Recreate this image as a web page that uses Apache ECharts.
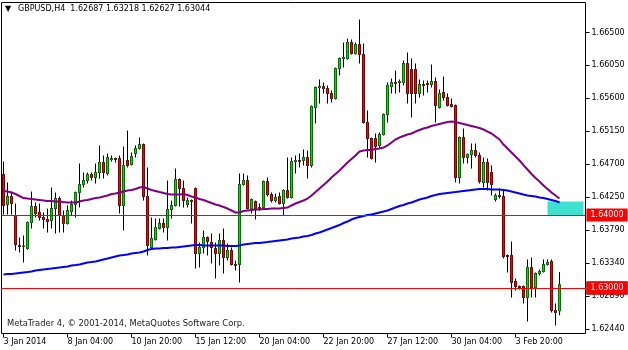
<!DOCTYPE html>
<html><head><meta charset="utf-8">
<script src="https://cdn.jsdelivr.net/npm/echarts@6.0.0/dist/echarts.min.js"></script>
<style>html,body{margin:0;padding:0;background:#fff}#c{width:628px;height:350px}</style>
</head><body><div id="c"></div>
<script>
const symbolName = 'GBPUSD,H4';
const copyrightText = 'MetaTrader 4, \u00a9 2001-2014, MetaQuotes Software Corp.';
const timeLabels = ['3 Jan 2014','8 Jan 04:00','10 Jan 20:00','15 Jan 12:00','20 Jan 04:00','22 Jan 20:00','27 Jan 12:00','30 Jan 04:00','3 Feb 20:00'];
const barsPerLabel = 16;
const emptyBarsRight = 6;

const barOpen = [1.64555,1.64144,1.64254,1.63994,1.63583,1.63569,1.63541,1.63898,1.64117,1.64035,
1.63966,1.63939,1.63925,1.64089,1.64226,1.63994,1.63884,1.64048,1.64144,1.64309,
1.64418,1.64473,1.64555,1.64514,1.64583,1.64720,1.64569,1.64761,1.64774,1.64774,
1.64131,1.64747,1.64692,1.64843,1.64911,1.64966,1.64254,1.63555,1.63665,1.63815,
1.63884,1.63829,1.64076,1.64131,1.64487,1.64363,1.64144,1.64199,1.64363,1.63473,
1.63555,1.63692,1.63624,1.63541,1.63473,1.63651,1.63418,1.63514,1.63322,1.63322,
1.64418,1.64473,1.64089,1.64185,1.64103,1.64103,1.64459,1.64281,1.64199,1.64254,
1.64158,1.64336,1.64240,1.64733,1.64747,1.64747,1.64788,1.64679,1.65473,1.65747,
1.65761,1.65733,1.65665,1.65596,1.66007,1.66144,1.66144,1.66364,1.66213,1.66336,
1.66199,1.65268,1.65048,1.65048,1.64953,1.65103,1.65377,1.65761,1.65816,1.65816,
1.65816,1.66076,1.65994,1.65994,1.65665,1.65788,1.65802,1.65788,1.65829,1.65473,
1.65679,1.65610,1.65514,1.65501,1.64514,1.65062,1.64788,1.64829,1.64884,1.64816,
1.64446,1.64720,1.64583,1.64213,1.64268,1.64254,1.63446,1.63446,1.63089,1.63021,
1.63021,1.62870,1.63281,1.63007,1.63199,1.63226,1.63322,1.63363,1.62692,1.62687];
const barClose = [1.64131,1.64254,1.64158,1.63596,1.63569,1.63576,1.63898,1.64117,1.64021,1.63966,
1.63939,1.63911,1.64089,1.64226,1.63994,1.63884,1.64062,1.64144,1.64309,1.64418,
1.64473,1.64555,1.64514,1.64583,1.64720,1.64583,1.64788,1.64774,1.64761,1.64131,
1.64679,1.64679,1.64802,1.64911,1.64966,1.64254,1.63583,1.63678,1.63829,1.63884,
1.63829,1.64076,1.64131,1.64487,1.64363,1.64199,1.64199,1.64185,1.63473,1.63555,
1.63692,1.63637,1.63555,1.63473,1.63651,1.63418,1.63514,1.63322,1.63309,1.64418,
1.64473,1.64089,1.64213,1.64089,1.64089,1.64459,1.64281,1.64199,1.64240,1.64158,
1.64336,1.64240,1.64733,1.64747,1.64733,1.64788,1.64679,1.65487,1.65747,1.65761,
1.65733,1.65665,1.65596,1.66007,1.66144,1.66158,1.66364,1.66213,1.66336,1.66199,
1.65268,1.65048,1.64774,1.64939,1.65103,1.65377,1.65775,1.65816,1.65802,1.65829,
1.66076,1.65665,1.65665,1.65665,1.65788,1.65775,1.65788,1.65829,1.65501,1.65665,
1.65610,1.65501,1.65487,1.64514,1.65062,1.64788,1.64829,1.64884,1.64816,1.64459,
1.64720,1.64446,1.64418,1.64268,1.64254,1.63432,1.63432,1.63076,1.63021,1.63007,
1.62870,1.63281,1.63007,1.63199,1.63226,1.63322,1.63350,1.62692,1.62665,1.63044];
const barLow = [1.64007,1.64007,1.64007,1.63514,1.63487,1.63350,1.63527,1.63815,1.63966,1.63925,
1.63815,1.63761,1.63815,1.63747,1.63761,1.63761,1.63870,1.63994,1.63966,1.64103,
1.64377,1.64432,1.64473,1.64432,1.64500,1.64500,1.64542,1.64733,1.64720,1.64021,
1.63788,1.64651,1.64679,1.64788,1.64898,1.64199,1.63446,1.63541,1.63651,1.63802,
1.63761,1.63651,1.63952,1.64117,1.64117,1.64103,1.64103,1.63884,1.63267,1.63281,
1.63473,1.63446,1.63336,1.63130,1.63309,1.63199,1.63377,1.63309,1.63240,1.63076,
1.64405,1.64076,1.64021,1.63939,1.64062,1.64089,1.64254,1.64172,1.64172,1.64144,
1.63994,1.64226,1.64226,1.64569,1.64651,1.64679,1.64500,1.64651,1.65254,1.65528,
1.65665,1.65528,1.65542,1.65583,1.65912,1.66021,1.66131,1.66199,1.66199,1.66076,
1.65254,1.64788,1.64761,1.64720,1.64911,1.65090,1.65268,1.65665,1.65665,1.65679,
1.65775,1.65528,1.65336,1.65528,1.65610,1.65638,1.65679,1.65747,1.65268,1.65459,
1.65569,1.65487,1.65473,1.64446,1.64432,1.64706,1.64706,1.64637,1.64788,1.64432,
1.64377,1.64336,1.64268,1.64185,1.64226,1.63404,1.63213,1.62870,1.62966,1.62980,
1.62788,1.62541,1.62870,1.62870,1.63172,1.63213,1.63309,1.62665,1.62487,1.62627];
const barHigh = [1.64733,1.64446,1.64322,1.64158,1.63692,1.63720,1.63911,1.64322,1.64172,1.64158,
1.64035,1.64089,1.64377,1.64309,1.64254,1.64062,1.64131,1.64199,1.64322,1.64706,
1.64583,1.64583,1.64583,1.64706,1.64953,1.64816,1.64843,1.64816,1.64788,1.64816,
1.64939,1.65158,1.64857,1.64953,1.65062,1.64980,1.64651,1.63966,1.63952,1.63952,
1.63952,1.64473,1.64199,1.64637,1.64500,1.64473,1.64240,1.64213,1.64377,1.63624,
1.63788,1.63706,1.63747,1.63624,1.63747,1.63815,1.63610,1.63555,1.63377,1.64569,
1.64569,1.64542,1.64226,1.64199,1.64158,1.64473,1.64514,1.64309,1.64295,1.64309,
1.64350,1.64788,1.64788,1.64816,1.64843,1.64898,1.64884,1.65501,1.65761,1.65857,
1.65816,1.65775,1.65706,1.66021,1.66158,1.66364,1.66418,1.66405,1.66364,1.66679,
1.66350,1.65432,1.65062,1.65117,1.65131,1.65391,1.65816,1.65870,1.65980,1.65857,
1.66117,1.66227,1.66144,1.66076,1.65857,1.65843,1.65843,1.66062,1.65884,1.65720,
1.65898,1.65665,1.65596,1.65514,1.65076,1.65185,1.64843,1.64980,1.64980,1.64857,
1.64788,1.64774,1.64679,1.64295,1.64363,1.64336,1.63459,1.63637,1.63130,1.63035,
1.63035,1.63391,1.63418,1.63213,1.63254,1.63391,1.63391,1.63391,1.62788,1.63218];

const maPurple = [1.64329,1.64322,1.64309,1.64288,1.64261,1.64233,1.64226,1.64220,1.64213,1.64206,
1.64199,1.64192,1.64192,1.64185,1.64185,1.64178,1.64172,1.64172,1.64172,1.64185,
1.64199,1.64206,1.64220,1.64233,1.64240,1.64254,1.64268,1.64288,1.64295,1.64309,
1.64322,1.64336,1.64343,1.64357,1.64377,1.64384,1.64363,1.64343,1.64329,1.64315,
1.64302,1.64288,1.64281,1.64281,1.64281,1.64288,1.64274,1.64254,1.64240,1.64220,
1.64206,1.64185,1.64165,1.64144,1.64131,1.64110,1.64089,1.64062,1.64035,1.64035,
1.64055,1.64062,1.64069,1.64076,1.64076,1.64083,1.64083,1.64089,1.64089,1.64089,
1.64096,1.64103,1.64131,1.64158,1.64178,1.64199,1.64226,1.64268,1.64315,1.64363,
1.64411,1.64459,1.64514,1.64562,1.64610,1.64665,1.64720,1.64768,1.64816,1.64870,
1.64884,1.64891,1.64891,1.64905,1.64911,1.64925,1.64953,1.64994,1.65035,1.65062,
1.65083,1.65103,1.65117,1.65144,1.65165,1.65185,1.65199,1.65220,1.65233,1.65247,
1.65261,1.65274,1.65281,1.65274,1.65261,1.65247,1.65233,1.65220,1.65206,1.65192,
1.65172,1.65144,1.65117,1.65076,1.65035,1.64966,1.64911,1.64857,1.64802,1.64747,
1.64685,1.64624,1.64562,1.64507,1.64459,1.64405,1.64357,1.64309,1.64268,1.64226];
const maBlue = [1.63185,1.63192,1.63192,1.63199,1.63206,1.63213,1.63219,1.63226,1.63240,1.63247,
1.63254,1.63261,1.63267,1.63274,1.63281,1.63288,1.63295,1.63309,1.63315,1.63322,
1.63336,1.63350,1.63356,1.63363,1.63377,1.63391,1.63404,1.63418,1.63432,1.63446,
1.63452,1.63459,1.63473,1.63480,1.63487,1.63500,1.63521,1.63535,1.63541,1.63541,
1.63548,1.63548,1.63555,1.63555,1.63562,1.63569,1.63576,1.63583,1.63589,1.63589,
1.63583,1.63583,1.63583,1.63583,1.63583,1.63583,1.63576,1.63576,1.63576,1.63583,
1.63596,1.63603,1.63610,1.63617,1.63617,1.63624,1.63630,1.63637,1.63644,1.63651,
1.63658,1.63665,1.63678,1.63685,1.63692,1.63706,1.63713,1.63726,1.63747,1.63761,
1.63781,1.63802,1.63822,1.63843,1.63863,1.63891,1.63911,1.63939,1.63959,1.63973,
1.63987,1.64000,1.64007,1.64021,1.64035,1.64048,1.64062,1.64083,1.64103,1.64124,
1.64137,1.64158,1.64172,1.64192,1.64213,1.64226,1.64240,1.64261,1.64274,1.64288,
1.64295,1.64302,1.64309,1.64315,1.64322,1.64329,1.64336,1.64343,1.64350,1.64357,
1.64357,1.64357,1.64350,1.64350,1.64350,1.64343,1.64336,1.64322,1.64309,1.64295,
1.64281,1.64268,1.64261,1.64254,1.64240,1.64233,1.64220,1.64206,1.64192,1.64172];

const priceTicks = [1.66500,1.66050,1.65600,1.65150,1.64700,1.64250,1.63790,1.63340,1.62890,1.62440];
const priceMin = 1.62377, priceMax = 1.66912;
const levelPrices = [1.64000, 1.63000];
const bidPrice = 1.63044;
const zoneTop = 1.64185, zoneBottom = 1.64000, zoneStartBar = 136;

const nBars = barOpen.length;
const totalSlots = nBars + emptyBarsRight;
const categories = [];
for (let i = 0; i < totalSlots; i++) {
  const k = i / barsPerLabel;
  categories.push(i % barsPerLabel === 0 && k < timeLabels.length ? timeLabels[k] : 'bar' + i);
}
const candles = barOpen.map((o, i) => [o, barClose[i], barLow[i], barHigh[i]]);
// bodies only (wick limited to the body range) for the coloured fill layer
const bodies = barOpen.map((o, i) => [o, barClose[i], Math.min(o, barClose[i]), Math.max(o, barClose[i])]);
const last = nBars - 1;
const header = symbolName + '  ' + [barOpen[last], barHigh[last], barLow[last], barClose[last]].map(v => v.toFixed(5)).join(' ');
const shown = (i) => i % barsPerLabel === 0 && i / barsPerLabel < timeLabels.length;

const FONT = 'DejaVu Sans';
const tagLabel = (bg) => ({
  show: true, position: 'end', distance: 1, formatter: p => Number(p.value).toFixed(5),
  color: '#fff', backgroundColor: bg, padding: [2, 4, 2, 4], fontSize: 8, lineHeight: 9, fontFamily: FONT
});

const chart = echarts.init(document.getElementById('c'), null, {renderer: 'canvas'});
chart.setOption({
  animation: false,
  backgroundColor: '#fff',
  title: [
    {text: '\u25BC', left: 5, top: 5, padding: 0, textStyle: {fontSize: 8, color: '#000', fontWeight: 'normal', fontFamily: FONT}},
    {text: header, left: 18, top: 5, padding: 0, textStyle: {fontSize: 8, color: '#000', fontWeight: 'normal', fontFamily: FONT}},
    {text: copyrightText, left: 7, top: 320, padding: 0, textStyle: {fontSize: 8.4, color: '#1a1a1a', fontWeight: 'normal', fontFamily: FONT}}
  ],
  grid: {left: 1.5, top: 2.5, right: 42.5, bottom: 16.5, show: true, borderColor: '#000', borderWidth: 1, backgroundColor: '#fff'},
  xAxis: {
    type: 'category', data: categories, boundaryGap: true,
    axisLine: {show: false},
    axisTick: {show: true, alignWithLabel: true, interval: shown, length: 4, lineStyle: {color: '#000'}},
    axisLabel: {interval: shown, align: 'left', margin: 4, color: '#000', fontSize: 8, fontFamily: FONT},
    splitLine: {show: false}
  },
  yAxis: {
    type: 'value', position: 'right', min: priceMin, max: priceMax, scale: true,
    axisLine: {show: false}, splitLine: {show: false},
    axisTick: {show: true, customValues: priceTicks, length: 4, lineStyle: {color: '#000'}},
    axisLabel: {customValues: priceTicks, formatter: v => v.toFixed(5), margin: 6, color: '#000', fontSize: 8, fontFamily: FONT}
  },
  series: [
    {
      type: 'candlestick', data: candles, barWidth: 2, z: 2,
      itemStyle: {color: '#000', color0: '#000', borderColor: '#000', borderColor0: '#000', borderColorDoji: '#000', borderWidth: 1},
      markArea: {
        silent: true, itemStyle: {color: '#40e0d0', opacity: 1},
        data: [[{xAxis: categories[zoneStartBar], yAxis: zoneTop}, {xAxis: categories[totalSlots - 1], yAxis: zoneBottom}]]
      },
      markLine: {
        silent: true, symbol: ['none', 'none'], animation: false,
        data: [
          {yAxis: bidPrice, lineStyle: {color: '#8c96a0', width: 1, type: 'solid'}, label: tagLabel('#000')},
          {yAxis: levelPrices[0], lineStyle: {color: '#ff0000', width: 1, type: 'solid'}, label: tagLabel('#ff0000')},
          {yAxis: levelPrices[1], lineStyle: {color: '#ff0000', width: 1, type: 'solid'}, label: tagLabel('#ff0000')}
        ]
      }
    },
    {
      type: 'candlestick', data: bodies, barWidth: 2, z: 3, silent: true,
      itemStyle: {color: '#00e000', color0: '#ff0000', borderWidth: 0, borderColor: 'rgba(0,0,0,0)', borderColor0: 'rgba(0,0,0,0)', borderColorDoji: 'rgba(0,0,0,0)'}
    },
    {type: 'line', data: maPurple, symbol: 'none', silent: true, z: 4, lineStyle: {color: '#800080', width: 2}},
    {type: 'line', data: maBlue, symbol: 'none', silent: true, z: 4, lineStyle: {color: '#0000ff', width: 2}}
  ]
});
</script>
</body></html>
